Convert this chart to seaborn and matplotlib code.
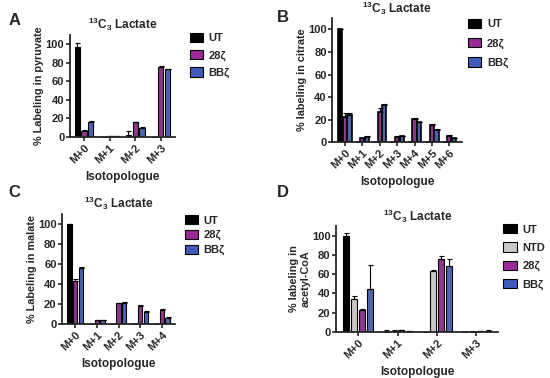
import numpy as np
import pandas as pd
import seaborn as sns
import matplotlib.pyplot as plt
from matplotlib.patches import Patch

# ---- data ----
groups3 = ['UT', '28ζ', 'BBζ']
groups4 = ['UT', 'NTD', '28ζ', 'BBζ']

pyr_iso = ['M+0', 'M+1', 'M+2', 'M+3']
pyr_ut = [97, 0, 2, 0]
pyr_28 = [6, 0.5, 15.5, 75.5]
pyr_bb = [16.5, 1, 9.5, 73]
pyr_ut_err = [4, 0, 4, 0]
pyr_28_err = [1, 0, 1, 1]
pyr_bb_err = [0.5, 0.3, 1, 0.5]

cit_iso = ['M+0', 'M+1', 'M+2', 'M+3', 'M+4', 'M+5', 'M+6']
cit_ut = [100, 0, 0, 0, 0, 0, 0]
cit_28 = [22, 3.5, 27, 4.5, 20.5, 15.5, 5.5]
cit_bb = [24, 4.5, 33, 5, 17.5, 11, 3.5]
cit_ut_err = [0, 0, 0, 0, 0, 0, 0]
cit_28_err = [4, 0.5, 3, 0.5, 1, 1, 0.5]
cit_bb_err = [2, 0.5, 0.5, 0.5, 0.5, 0.5, 0.5]

mal_iso = ['M+0', 'M+1', 'M+2', 'M+3', 'M+4']
mal_ut = [100, 0, 0, 0, 0]
mal_28 = [43, 3.5, 20.5, 18, 14]
mal_bb = [56, 4, 20.5, 12, 6]
mal_ut_err = [0, 0, 0, 0, 0]
mal_28_err = [2, 0.3, 0.5, 1, 0.5]
mal_bb_err = [1, 0.3, 1, 0.5, 0.5]

aco_iso = ['M+0', 'M+1', 'M+2', 'M+3']
aco_ut = [100, 0, 0, 0]
aco_ntd = [34, 0.5, 63, 0.3]
aco_28 = [23, 1.5, 76, 0.5]
aco_bb = [45, 0.8, 68, 0.5]
aco_ut_err = [3, 2, 0, 0]
aco_ntd_err = [3, 1, 1.5, 0.5]
aco_28_err = [0.5, 0.5, 3, 0.5]
aco_bb_err = [25, 0.5, 8, 1.5]

colors = {'UT': '#000000', 'NTD': '#c8c8c8', '28ζ': '#9b2a98', 'BBζ': '#3f5cbc'}

sns.set_theme(style='ticks')
plt.rcParams['font.family'] = ['Liberation Sans', 'DejaVu Sans']
plt.rcParams['font.weight'] = 'bold'
plt.rcParams['axes.labelweight'] = 'bold'
plt.rcParams['mathtext.fontset'] = 'custom'
plt.rcParams['mathtext.bf'] = 'Liberation Sans:bold'
plt.rcParams['mathtext.rm'] = 'Liberation Sans:bold'

title = r'$\mathbf{^{13}C_3}$ Lactate'


def panel(fig, rect, iso, series, errs, names, ylabel, leg_xy, leg_sp,
          gap=0.25, lw=0.8):
    ax = fig.add_axes(rect)
    rows = []
    for name, vals in zip(names, series):
        for i, v in zip(iso, vals):
            rows.append((i, name, v))
    df = pd.DataFrame(rows, columns=['iso', 'group', 'val'])
    sns.barplot(data=df, x='iso', y='val', hue='group', hue_order=names,
                palette=colors, ax=ax, errorbar=None, width=0.8, gap=gap,
                edgecolor='black', linewidth=lw, legend=False)
    # one-sided error bars
    for cont, vals, err in zip(ax.containers, series, errs):
        xs = [b.get_x() + b.get_width() / 2 for b in cont]
        ax.errorbar(xs, vals, yerr=[np.zeros(len(err)), err], fmt='none',
                    ecolor='black', elinewidth=0.8, capsize=1.8, capthick=0.8)
    ax.set_ylim(0, 110)
    ax.set_yticks([0, 20, 40, 60, 80, 100])
    ax.set_title(title, fontsize=8.5, fontweight='bold', pad=4)
    ax.set_xlabel('Isotopologue', fontsize=8.5, fontweight='bold', labelpad=4)
    ax.set_ylabel(ylabel, fontsize=7.8, fontweight='bold', labelpad=1)
    ax.tick_params(axis='both', labelsize=8, width=1.2, length=3, pad=1)
    plt.setp(ax.get_xticklabels(), rotation=45, ha='right',
             rotation_mode='anchor', fontweight='bold')
    plt.setp(ax.get_yticklabels(), fontweight='bold')
    for s in ['left', 'bottom']:
        ax.spines[s].set_linewidth(1.3)
    sns.despine(ax=ax)
    handles = [Patch(facecolor=colors[n], edgecolor='black', linewidth=0.8, label=n)
               for n in names]
    leg = ax.legend(handles=handles, loc='upper left', bbox_to_anchor=leg_xy,
                    bbox_transform=fig.transFigure, frameon=False, fontsize=8,
                    handlelength=1.2, handleheight=0.9, handletextpad=0.5,
                    labelspacing=leg_sp, borderaxespad=0, borderpad=0)
    for t in leg.get_texts():
        t.set_fontweight('bold')
    return ax


fig = plt.figure(figsize=(5.5, 3.78), dpi=100)

panel(fig, [0.127, 0.638, 0.191, 0.270], pyr_iso, [pyr_ut, pyr_28, pyr_bb],
      [pyr_ut_err, pyr_28_err, pyr_bb_err], groups3,
      '% Labeling in pyruvate', (0.345, 0.913), 0.6)
panel(fig, [0.604, 0.624, 0.236, 0.328], cit_iso, [cit_ut, cit_28, cit_bb],
      [cit_ut_err, cit_28_err, cit_bb_err], groups3,
      '% labeling in citrate', (0.851, 0.95), 0.78, gap=0.1, lw=1.2)
panel(fig, [0.113, 0.143, 0.205, 0.291], mal_iso, [mal_ut, mal_28, mal_bb],
      [mal_ut_err, mal_28_err, mal_bb_err], groups3,
      '% Labeling in malate', (0.336, 0.431), 0.38)
panel(fig, [0.611, 0.122, 0.295, 0.280], aco_iso, [aco_ut, aco_ntd, aco_28, aco_bb],
      [aco_ut_err, aco_ntd_err, aco_28_err, aco_bb_err], groups4,
      '% labeling in\nacetyl-CoA', (0.915, 0.407), 0.7)

for letter, x, y in [('A', 0.015, 0.945), ('B', 0.503, 0.955),
                     ('C', 0.015, 0.49), ('D', 0.503, 0.49)]:
    fig.text(x, y, letter, fontsize=12, fontweight='bold', va='center')

fig.savefig('out.png', dpi=100)
